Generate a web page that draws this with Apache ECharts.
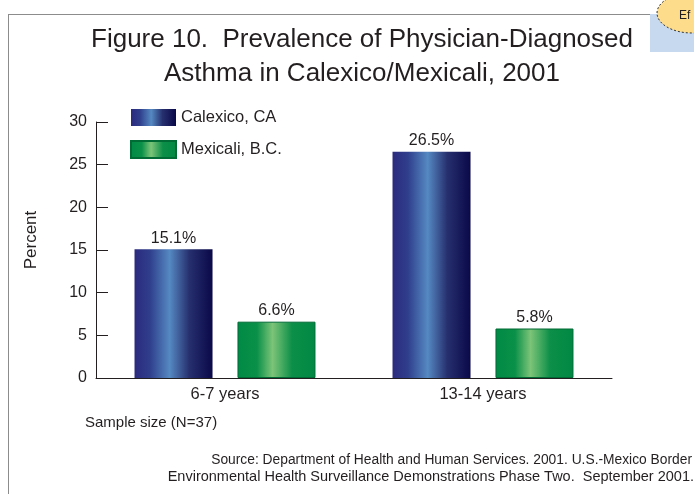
<!DOCTYPE html>
<html><head><meta charset="utf-8">
<script src="https://cdn.jsdelivr.net/npm/echarts@6/dist/echarts.min.js"></script>
<style>html,body{margin:0;padding:0;background:#fff}#c{width:694px;height:494px}</style>
</head><body><div id="c"></div>
<script>
const categories = ['6-7 years', '13-14 years'];
const seriesNames = ['Calexico, CA', 'Mexicali, B.C.'];
const calexico = [15.1, 26.5];
const mexicali = [6.6, 5.8];
const yTicks = [0, 5, 10, 15, 20, 25, 30];

const F = 'Liberation Sans, Arial, sans-serif';
const blueGrad = new echarts.graphic.LinearGradient(0, 0, 1, 0, [
  {offset: 0, color: '#2b2a7e'}, {offset: 0.2, color: '#2f3f8c'},
  {offset: 0.45, color: '#5589c2'}, {offset: 0.7, color: '#27306f'},
  {offset: 1, color: '#0a0848'}]);
const greenGrad = new echarts.graphic.LinearGradient(0, 0, 1, 0, [
  {offset: 0, color: '#008a45'}, {offset: 0.25, color: '#0a9048'},
  {offset: 0.45, color: '#7cc478'}, {offset: 0.7, color: '#0c8f48'},
  {offset: 1, color: '#008843'}]);

const chart = echarts.init(document.getElementById('c'), null, {renderer: 'canvas'});
chart.setOption({
  animation: false,
  backgroundColor: '#fff',
  textStyle: {fontFamily: F},
  title: {
    text: 'Figure 10.  Prevalence of Physician-Diagnosed\nAsthma in Calexico/Mexicali, 2001',
    left: 357, top: 18, textAlign: 'center',
    textStyle: {fontFamily: F, fontSize: 26, fontWeight: 'normal', color: '#231f20', lineHeight: 34}
  },
  legend: {
    orient: 'vertical', left: 125, top: 104, itemWidth: 45, itemHeight: 17, itemGap: 14,
    icon: 'rect',
    textStyle: {fontFamily: F, fontSize: 16.5, color: '#231f20'},
    data: seriesNames
  },
  grid: {left: 96, right: 82, top: 122, bottom: 116},
  xAxis: {
    type: 'category', data: categories,
    axisLine: {lineStyle: {color: '#231f20', width: 1}},
    axisTick: {inside: true, length: 7, lineStyle: {color: '#231f20'}},
    axisLabel: {fontFamily: F, fontSize: 16.5, color: '#231f20', margin: 8}
  },
  yAxis: {
    type: 'value', min: 0, max: 30, interval: 5,
    axisLine: {show: true, lineStyle: {color: '#231f20', width: 1}},
    axisTick: {show: true, inside: true, length: 12, lineStyle: {color: '#231f20'}},
    axisLabel: {fontFamily: F, fontSize: 16, color: '#231f20', margin: 9,
      formatter: v => yTicks.includes(v) ? String(v) : ''},
    splitLine: {show: false}
  },
  series: [
    {name: seriesNames[0], type: 'bar', data: calexico, barWidth: 78, barGap: '32%',
      itemStyle: {color: blueGrad},
      label: {show: true, position: 'top', distance: 3, formatter: p => p.value.toFixed(1) + '%',
        fontFamily: F, fontSize: 16, color: '#231f20'}},
    {name: seriesNames[1], type: 'bar', data: mexicali, barWidth: 78,
      itemStyle: {color: greenGrad, borderColor: '#006b35', borderWidth: 1},
      label: {show: true, position: 'top', distance: 3, formatter: p => p.value.toFixed(1) + '%',
        fontFamily: F, fontSize: 16, color: '#231f20'}}
  ],
  graphic: [
    {type: 'line', shape: {x1: 8, y1: 14.5, x2: 652, y2: 14.5}, style: {stroke: '#8c8c8c', lineWidth: 1}},
    {type: 'line', shape: {x1: 8.5, y1: 14, x2: 8.5, y2: 494}, style: {stroke: '#8c8c8c', lineWidth: 1}},
    {type: 'rect', shape: {x: 650, y: 14, width: 44, height: 38}, style: {fill: '#c6d9ee'}},
    {type: 'ellipse', shape: {cx: 692, cy: 13, rx: 35, ry: 20},
      style: {fill: '#fddc8c', stroke: '#333', lineWidth: 1, lineDash: [2, 2]}},
    {type: 'text', x: 679, y: 10, style: {text: 'Ef', font: '12px ' + F, fill: '#231f20'}},
    {type: 'text', x: 31, y: 240, rotation: Math.PI / 2,
      style: {text: 'Percent', font: '17px ' + F, fill: '#231f20', align: 'center', verticalAlign: 'middle'}},
    {type: 'text', x: 85, y: 423, style: {text: 'Sample size (N=37)', font: '15px ' + F, fill: '#231f20', verticalAlign: 'middle'}},
    {type: 'text', x: 692, y: 460, style: {
      text: 'Source: Department of Health and Human Services. 2001. U.S.-Mexico Border',
      font: '13.8px ' + F, fill: '#231f20', align: 'right', verticalAlign: 'middle'}},
    {type: 'text', x: 694, y: 477, style: {
      text: 'Environmental Health Surveillance Demonstrations Phase Two.  September 2001.',
      font: '14.5px ' + F, fill: '#231f20', align: 'right', verticalAlign: 'middle'}}
  ]
});
</script></body></html>
